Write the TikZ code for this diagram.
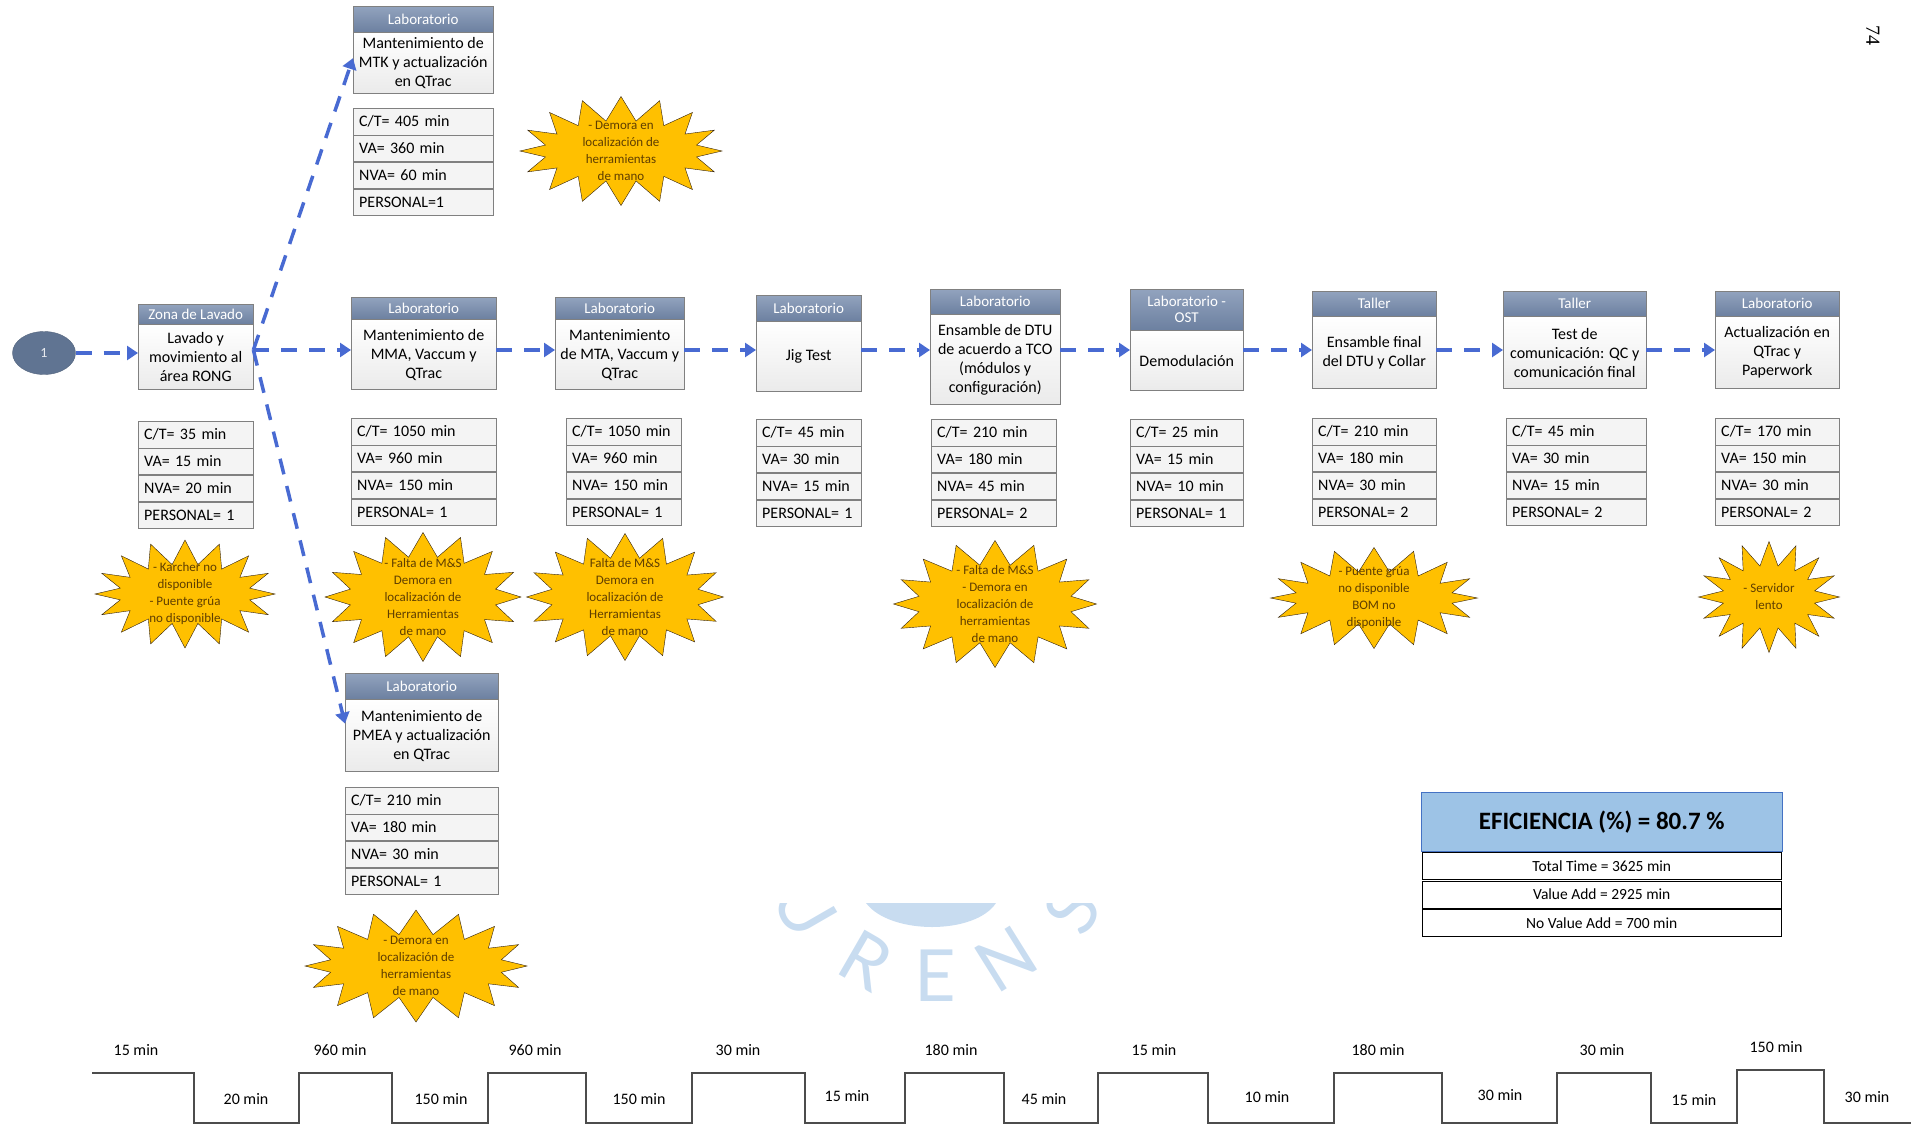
\documentclass[tikz,border=0pt]{standalone}
\usepackage{fontspec}
\setmainfont{Carlito}
\newfontfamily\wmfont{Lato}
\newfontfamily\pagefont{Liberation Serif}
\usetikzlibrary{positioning,arrows.meta,shapes.geometric,shapes.symbols}
\definecolor{hdrtop}{RGB}{146,163,190}
\definecolor{hdrbot}{RGB}{108,128,160}
\definecolor{boxline}{RGB}{128,128,128}
\definecolor{flowblue}{RGB}{72,106,210}
\definecolor{burstfill}{RGB}{255,192,0}
\definecolor{bursttext}{RGB}{95,62,0}
\definecolor{circfill}{RGB}{96,116,146}
\definecolor{efifill}{RGB}{157,195,230}
\definecolor{efiline}{RGB}{68,114,196}
\definecolor{wmblue}{RGB}{200,220,240}

% tabla de datos: nombre, x, y, ancho, C/T, VA, NVA, PERSONAL
\newcommand\tabla[8]{%
  \pgfmathsetlengthmacro\tw{#4pt-12pt}%
  \node[cell, anchor=north west, text width=\tw] (#1-1) at (#2,#3) {C/T= #5 min};
  \node[cell, text width=\tw, below=0pt of #1-1] (#1-2) {VA= #6 min};
  \node[cell, text width=\tw, below=0pt of #1-2] (#1-3) {NVA= #7 min};
  \node[cell, text width=\tw, below=0pt of #1-3] (#1-4) {#8};
}

\begin{document}
\begin{tikzpicture}[x=1pt,y=-1pt,
    hdr/.style={draw=boxline, top color=hdrtop, bottom color=hdrbot, text=white,
      font=\fontsize{15}{16}\selectfont, anchor=north west, inner sep=1pt, align=center},
    body/.style={draw=boxline, top color=white, bottom color=gray!16,
      font=\fontsize{16}{19}\selectfont, align=center, inner sep=2pt},
    cell/.style={draw=boxline, fill=gray!9, font=\fontsize{16}{19}\selectfont,
      inner xsep=6pt, inner ysep=0pt, minimum height=26.5pt, align=left},
    burst/.style={starburst, starburst points=16, starburst point height=24pt,
      random starburst=0, draw=black!75!brown, fill=burstfill, inner sep=0pt},
    btxt/.style={text=bursttext, font=\fontsize{13}{17}\selectfont, align=center},
    flow/.style={draw=flowblue, line width=3.5pt, dash pattern=on 16pt off 12pt,
      -{Triangle[length=11pt,width=14pt]}},
    effi/.style={draw=efiline, fill=efifill, font=\fontsize{25}{30}\selectfont\bfseries},
    erow/.style={draw=black, fill=white, minimum width=359pt, minimum height=27pt,
      font=\fontsize{15.5}{18}\selectfont},
    wave/.style={draw=black!70, line width=1.8pt},
    tlabel/.style={font=\fontsize{16}{18}\selectfont},
    wm/.style={text=wmblue, inner sep=0pt, font=\wmfont\fontsize{72}{72}\selectfont}
]
\useasboundingbox (0,0) rectangle (1911,1125);

% watermark
\begin{scope}
  \clip (700,903) rectangle (1120,1020);
  \fill[wmblue] (866,903) .. controls (890,935) and (975,935) .. (996,903) -- cycle;
  \node[wm, rotate=-60] (wmU) at (805,908) {U};
  \node[wm, rotate=-30] (wmR) at (866,960) {R};
  \node[wm] (wmE) at (935,976) {E};
  \node[wm, rotate=32] (wmN) at (1006,959) {N};
  \node[wm, rotate=60] (wmS) at (1072,910) {S};
\end{scope}

\node[ellipse, fill=circfill, draw=circfill!85!black, minimum width=63pt, minimum height=43pt,
  text=white!85!circfill, font=\fontsize{14}{16}\selectfont] (inicio) at (44,353) {1};

% procesos
\node[hdr, minimum width=115pt, minimum height=20pt] (zona-h) at (138,304) {Zona de Lavado};
\node[body, minimum width=115pt, minimum height=65pt, below=0pt of zona-h] (zona-b) {Lavado y\\ movimiento al\\ área RONG};

\node[hdr, minimum width=140pt, minimum height=26pt] (mtk-h) at (353,6) {Laboratorio};
\node[body, minimum width=140pt, minimum height=61pt, below=0pt of mtk-h] (mtk-b) {Mantenimiento de\\ MTK y actualización\\ en QTrac};

\node[hdr, minimum width=145pt, minimum height=22pt] (mma-h) at (351,297) {Laboratorio};
\node[body, minimum width=145pt, minimum height=70pt, below=0pt of mma-h] (mma-b) {Mantenimiento de\\ MMA, Vaccum y\\ QTrac};

\node[hdr, minimum width=129pt, minimum height=22pt] (mta-h) at (555,297) {Laboratorio};
\node[body, minimum width=129pt, minimum height=70pt, below=0pt of mta-h] (mta-b) {Mantenimiento\\ de MTA, Vaccum y\\ QTrac};

\node[hdr, minimum width=105pt, minimum height=26pt] (jig-h) at (756,295) {Laboratorio};
\node[body, minimum width=105pt, minimum height=70pt, below=0pt of jig-h] (jig-b) {Jig Test};

\node[hdr, minimum width=130pt, minimum height=25pt] (dtu-h) at (930,289) {Laboratorio};
\node[body, minimum width=130pt, minimum height=90pt, below=0pt of dtu-h] (dtu-b) {Ensamble de DTU\\ de acuerdo a TCO\\ (módulos y\\ configuración)};

\node[hdr, minimum width=113pt, minimum height=41pt] (ost-h) at (1130,289) {Laboratorio -\\ OST};
\node[body, minimum width=113pt, minimum height=60pt, below=0pt of ost-h] (ost-b) {Demodulación};

\node[hdr, minimum width=124pt, minimum height=25pt] (tal1-h) at (1312,291) {Taller};
\node[body, minimum width=124pt, minimum height=72pt, below=0pt of tal1-h] (tal1-b) {Ensamble final\\ del DTU y Collar};

\node[hdr, minimum width=143pt, minimum height=25pt] (tal2-h) at (1503,291) {Taller};
\node[body, minimum width=143pt, minimum height=72pt, below=0pt of tal2-h] (tal2-b) {Test de\\ comunicación: QC y\\ comunicación final};

\node[hdr, minimum width=124pt, minimum height=25pt] (lab-h) at (1715,291) {Laboratorio};
\node[body, minimum width=124pt, minimum height=72pt, below=0pt of lab-h] (lab-b) {Actualización en\\ QTrac y\\ Paperwork};

\node[hdr, minimum width=153pt, minimum height=26pt] (pmea-h) at (345,673) {Laboratorio};
\node[body, minimum width=153pt, minimum height=72pt, below=0pt of pmea-h] (pmea-b) {Mantenimiento de\\ PMEA y actualización\\ en QTrac};

% tiempos
\tabla{zona}{138}{421}{115}{35}{15}{20}{PERSONAL= 1}
\tabla{mtk}{353}{108}{140}{405}{360}{60}{PERSONAL=1}
\tabla{mma}{351}{418}{145}{1050}{960}{150}{PERSONAL= 1}
\tabla{mta}{566}{418}{115}{1050}{960}{150}{PERSONAL= 1}
\tabla{jig}{756}{419}{105}{45}{30}{15}{PERSONAL= 1}
\tabla{dtu}{931}{419}{125}{210}{180}{45}{PERSONAL= 2}
\tabla{ost}{1130}{419}{113}{25}{15}{10}{PERSONAL= 1}
\tabla{tal1}{1312}{418}{124}{210}{180}{30}{PERSONAL= 2}
\tabla{tal2}{1506}{418}{140}{45}{30}{15}{PERSONAL= 2}
\tabla{lab}{1715}{418}{124}{170}{150}{30}{PERSONAL= 2}
\tabla{pmea}{345}{787}{153}{210}{180}{30}{PERSONAL= 1}

% problemas
\node[burst, minimum width=202pt, minimum height=109pt] (mtk-s) at (621,151) {};
\node[btxt] (mtk-st) at (mtk-s) {- Demora en\\ localización de\\ herramientas\\ de mano};
\node[burst, minimum width=180pt, minimum height=108pt] (zona-s) at (185,594) {};
\node[btxt] (zona-st) at (zona-s) {- Karcher no\\ disponible\\ - Puente grúa\\ no disponible};
\node[burst, minimum width=196pt, minimum height=129pt] (mma-s) at (423,597) {};
\node[btxt] (mma-st) at (mma-s) {- Falta de M\&S\\ Demora en\\ localización de\\ Herramientas\\ de mano};
\node[burst, minimum width=197pt, minimum height=127pt] (mta-s) at (625,597) {};
\node[btxt] (mta-st) at (mta-s) {Falta de M\&S\\ Demora en\\ localización de\\ Herramientas\\ de mano};
\node[burst, minimum width=203pt, minimum height=127pt] (dtu-s) at (995,604) {};
\node[btxt] (dtu-st) at (dtu-s) {- Falta de M\&S\\ - Demora en\\ localización de\\ herramientas\\ de mano};
\node[burst, minimum width=207pt, minimum height=101pt] (tal-s) at (1374,598) {};
\node[btxt] (tal-st) at (tal-s) {- Puente grúa\\ no disponible\\ BOM no\\ disponible};
\node[burst, minimum width=141pt, minimum height=111pt] (lab-s) at (1769,597) {};
\node[btxt] (lab-st) at (lab-s) {- Servidor\\ lento};
\node[burst, minimum width=222pt, minimum height=112pt] (pmea-s) at (416,966) {};
\node[btxt] (pmea-st) at (pmea-s) {- Demora en\\ localización de\\ herramientas\\ de mano};

% flujo
\coordinate (eje) at (0,350);
\draw[flow] (inicio) -- (inicio -| zona-b.west);
\draw[flow] (zona-b.east |- eje) -- (mma-b.west |- eje);
\draw[flow] (mma-b.east |- eje) -- (mta-b.west |- eje);
\draw[flow] (mta-b.east |- eje) -- (jig-b.west |- eje);
\draw[flow] (jig-b.east |- eje) -- (dtu-b.west |- eje);
\draw[flow] (dtu-b.east |- eje) -- (ost-b.west |- eje);
\draw[flow] (ost-b.east |- eje) -- (tal1-b.west |- eje);
\draw[flow] (tal1-b.east |- eje) -- (tal2-b.west |- eje);
\draw[flow] (tal2-b.east |- eje) -- (lab-b.west |- eje);
\draw[flow] (zona-b.east |- eje) -- ([yshift=5pt]mtk-b.west);
\draw[flow] (zona-b.east |- eje) -- ([yshift=12pt]pmea-b.west);

% eficiencia
\node[effi, anchor=north west, minimum width=361pt, minimum height=59pt] (efic) at (1421,792) {EFICIENCIA (\%) = 80.7 \%};
\node[erow, below=1pt of efic] (total) {Total Time = 3625 min};
\node[erow, below=1pt of total] (vadd) {Value Add = 2925 min};
\node[erow, below=1pt of vadd] (nvadd) {No Value Add = 700 min};

% linea de tiempo
\draw[wave] (92,1073) -| (194,1123) -| (299,1073) -| (392,1123) -| (488,1073) -| (586,1123)
  -| (692,1073) -| (805,1123) -| (905,1073) -| (1004,1123) -| (1098,1073) -| (1208,1123)
  -| (1334,1073) -| (1442,1123) -| (1557,1073) -| (1651,1123) -| (1737,1070) -| (1824,1123) -- (1911,1123);
\foreach \x/\y/\t [count=\i] in {136/1050/15, 340/1050/960, 535/1050/960, 738/1050/30, 951/1050/180,
  1154/1050/15, 1378/1050/180, 1602/1050/30, 1776/1047/150}{
  \node[tlabel] (va\i) at (\x,\y) {\t\ min};
}
\foreach \x/\y/\t [count=\i] in {246/1099/20, 441/1099/150, 639/1099/150, 847/1096/15, 1044/1099/45,
  1267/1097/10, 1500/1095/30, 1694/1100/15, 1867/1097/30}{
  \node[tlabel] (nva\i) at (\x,\y) {\t\ min};
}

\node[rotate=-90, font=\pagefont\fontsize{20}{20}\selectfont] (pagina) at (1873,35) {74};

\end{tikzpicture}
\end{document}
